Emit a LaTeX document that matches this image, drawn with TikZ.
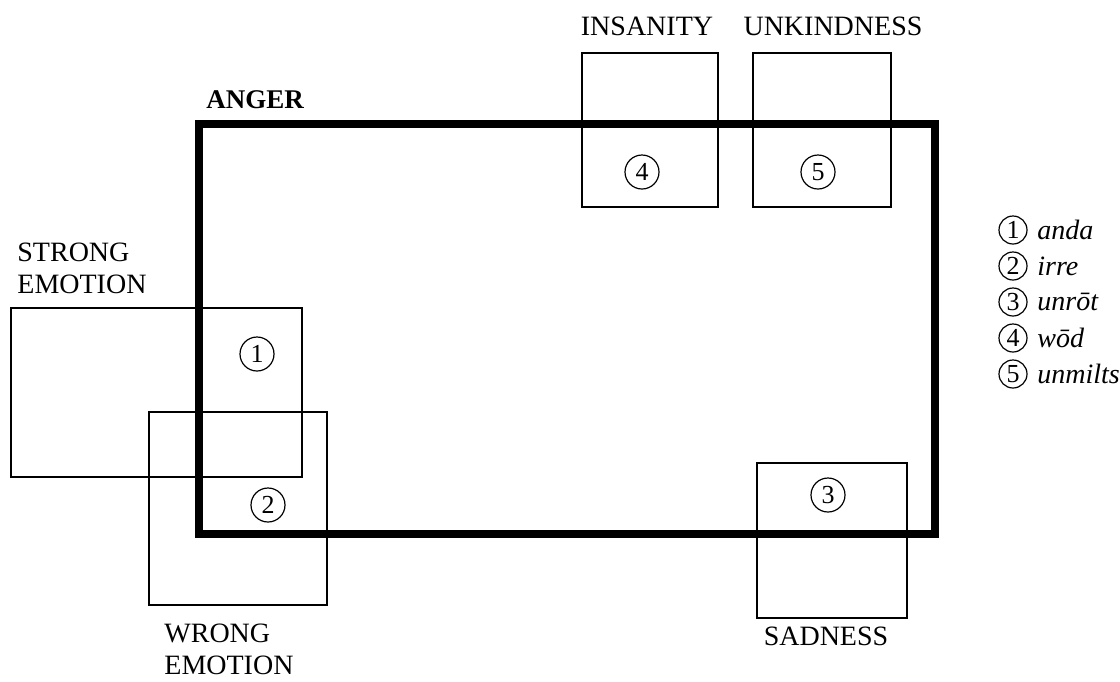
\documentclass[tikz,border=0pt]{standalone}
\usepackage{fontspec}
\setmainfont{Liberation Serif}
\begin{document}
\begin{tikzpicture}[x=0.5pt,y=-0.5pt,
  thinbox/.style={draw=black, line width=0.8pt},
  angerbox/.style={draw=black, line width=3.6pt, line join=miter},
  lbl/.style={inner sep=0pt, font=\fontsize{14}{16}\selectfont, align=left},
  numc/.style={circle, draw=black, line width=0.6pt, minimum size=17pt, inner sep=0pt, font=\fontsize{13}{13}\selectfont},
  legc/.style={circle, draw=black, line width=0.6pt, minimum size=14pt, inner sep=0pt, font=\fontsize{13}{13}\selectfont},
  legt/.style={inner sep=0pt, anchor=west, font=\fontsize{14}{16}\selectfont\itshape}]
\useasboundingbox (0,0) rectangle (1120,681);
% thin boxes
\draw[thinbox] (11,308) rectangle (302,477);
\draw[thinbox] (149,412) rectangle (327,605);
\draw[thinbox] (582,53) rectangle (718,207);
\draw[thinbox] (753,53) rectangle (891,207);
\draw[thinbox] (757,463) rectangle (907,618);
% anger box
\draw[angerbox] (199,124) rectangle (935,534);
% labels
\node[lbl, anchor=west, font=\fontsize{13.5}{16}\selectfont\bfseries] (anger) at (206,100) {ANGER};
\node[lbl, anchor=west] (strong) at (17,268) {STRONG\\EMOTION};
\node[lbl, anchor=west] (wrong) at (164,649) {WRONG\\EMOTION};
\node[lbl] (insanity) at (647,26) {INSANITY};
\node[lbl] (unkind) at (833,26) {UNKINDNESS};
\node[lbl] (sadness) at (826,636) {SADNESS};
% circled numbers
\node[numc] (n1) at (257,354) {1};
\node[numc] (n2) at (268,505) {2};
\node[numc] (n3) at (828,495) {3};
\node[numc] (n4) at (642,172) {4};
\node[numc] (n5) at (818,172) {5};
% legend
\node[legc] (l1) at (1013,230) {1};
\node[legc] (l2) at (1013,266) {2};
\node[legc] (l3) at (1013,302) {3};
\node[legc] (l4) at (1013,338) {4};
\node[legc] (l5) at (1013,374) {5};
\node[legt] (t1) at (1037,230) {anda};
\node[legt] (t2) at (1037,266) {irre};
\node[legt] (t3) at (1037,302) {unrōt};
\node[legt] (t4) at (1037,338) {wōd};
\node[legt] (t5) at (1037,374) {unmilts};
\end{tikzpicture}
\end{document}
